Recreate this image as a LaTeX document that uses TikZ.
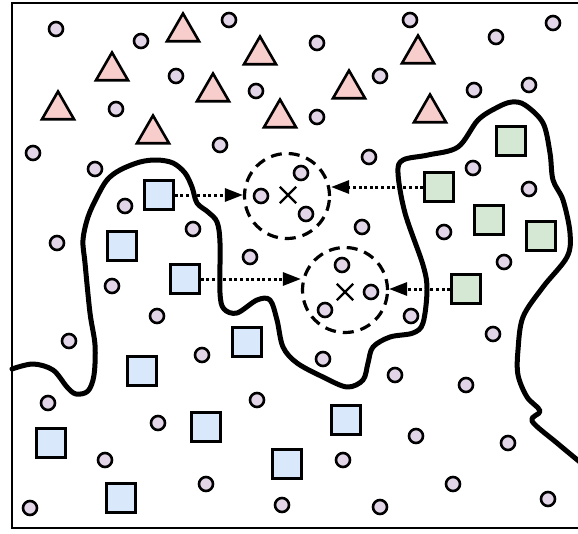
\documentclass[tikz,border=0pt]{standalone}
\usepackage{xcolor}
\usetikzlibrary{shapes.geometric, shapes.misc, arrows.meta}
\definecolor{sample-fill}{HTML}{E1D5E7}
\definecolor{tri-fill}{HTML}{F8CECC}
\definecolor{src-blue}{HTML}{DAE8FC}
\definecolor{src-green}{HTML}{D5E8D4}

\begin{document}
\begin{tikzpicture}[x=1pt, y=-1pt,
    sample/.style={circle, draw, line width=2.6pt, fill=sample-fill,
                   minimum size=14pt, inner sep=0pt},
    tri/.style={regular polygon, regular polygon sides=3, draw, line width=2.6pt,
                fill=tri-fill, minimum size=37pt, inner sep=0pt},
    bluesq/.style={rectangle, draw, line width=2.6pt, fill=src-blue,
                   minimum size=29pt, inner sep=0pt},
    greensq/.style={rectangle, draw, line width=2.6pt, fill=src-green,
                    minimum size=29pt, inner sep=0pt},
    probe/.style={circle, draw, line width=3.2pt, dash pattern=on 11pt off 7pt,
                  minimum size=85pt, inner sep=0pt},
    xmark/.style={cross out, draw, line width=2.4pt, minimum size=14pt, inner sep=0pt},
    shift-arrow/.style={line width=3pt, dash pattern=on 3pt off 2.6pt,
                        -{Triangle[length=18pt, width=13pt]}},
    boundary/.style={line width=5pt, line join=round, line cap=round}]
  \clip (0,0) rectangle (578,533);
  \draw[line width=2.4pt] (12,3) rectangle (600,528);

  % decision boundary
  \draw[boundary] plot[smooth, tension=0.55] coordinates {
    (12,369) (33,364) (53,370) (67,387) (76,394) (88,391) (94,375) (95,345)
    (90,313) (85,263) (83,240) (88,217) (97,197) (107,180) (120,170) (140,162)
    (157,160) (173,163) (185,173) (192,187) (197,203) (208,212) (217,222)
    (220,243) (220,293) (224,309) (237,313) (257,300) (270,300) (277,320)
    (283,347) (297,363) (323,377) (347,387) (363,380) (368,363) (373,347)
    (390,337) (413,333) (423,323) (427,290) (423,265) (405,213) (398,173)
    (403,160) (428,155) (458,147) (478,120) (498,107) (512,102) (525,105)
    (543,123) (550,153) (553,180) (563,200) (570,233) (567,257) (543,287)
    (523,317) (518,350) (518,375) (527,397) (540,411) (532,421) (557,443)
    (586,467)};

  % unlabeled samples
  \foreach \px/\py in {56/29, 141/41, 229/20, 176/76, 256/91, 116/109, 33/153,
      220/145, 95/169, 125/206, 193/229, 57/243, 250/257, 410/20, 553/23,
      496/37, 317/43, 380/76, 529/85, 474/90, 317/117, 369/157, 473/168,
      529/189, 362/227, 444/232, 504/262, 112/286, 157/316, 69/341, 202/355,
      48/403, 257/400, 158/423, 105/460, 206/484, 30/508, 282/505, 411/316,
      493/334, 323/359, 395/375, 466/385, 416/436, 508/443, 343/460, 453/484,
      380/507, 548/499, 261/196, 301/173, 306/214, 342/265, 371/292, 325/310}
    \node[sample] at (\px,\py) {};

  % target class
  \foreach \px/\py in {183/32, 260/55, 112/71, 213/92, 58/110, 153/134,
      280/118, 418/54, 349/89, 430/113}
    \node[tri] at (\px,\py) {};

  % source domains
  \node[bluesq] (b1) at (159,195) {};
  \node[bluesq] (b3) at (185,279) {};
  \foreach \px/\py in {122/246, 247/342, 142/371, 51/443, 206/427, 346/420,
      121/498, 287/464}
    \node[bluesq] at (\px,\py) {};
  \node[greensq] (g2) at (439,187) {};
  \node[greensq] (g5) at (466,289) {};
  \foreach \px/\py in {511/141, 489/220, 541/236}
    \node[greensq] at (\px,\py) {};

  % shifted neighbourhoods
  \node[probe] (cl1) at (287,196) {};
  \node[probe] (cl2) at (345,290) {};
  \node[xmark] at (288,195) {};
  \node[xmark] at (345,292) {};

  \draw[shift-arrow] (b1.east) -- (b1.east -| cl1.west);
  \draw[shift-arrow] (g2.west) -- (g2.west -| cl1.east);
  \draw[shift-arrow] (b3.east) -- (b3.east -| cl2.west);
  \draw[shift-arrow] (g5.west) -- (g5.west -| cl2.east);
\end{tikzpicture}
\end{document}
